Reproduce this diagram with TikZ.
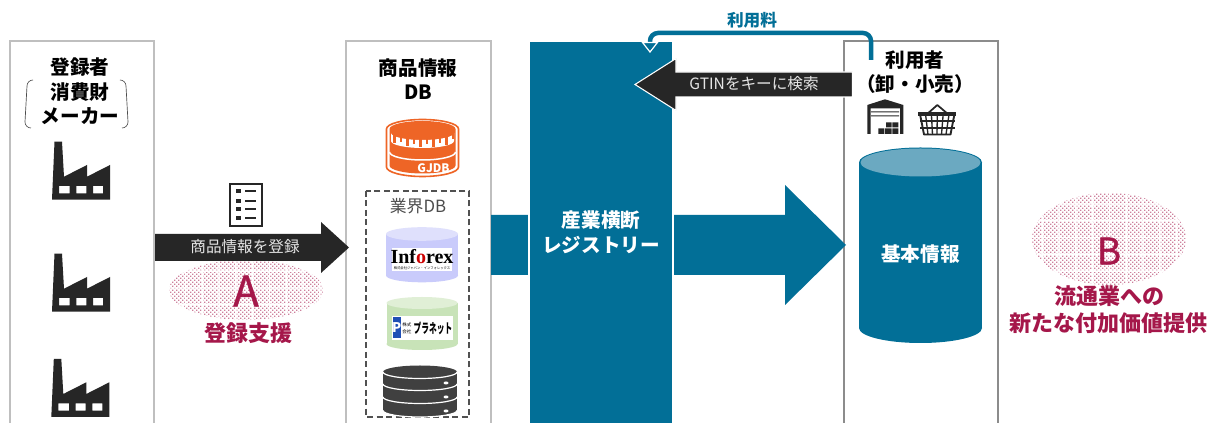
\documentclass[tikz,border=0pt]{standalone}
\usepackage{fontspec}
\setmainfont{Noto Sans CJK JP}
\newfontfamily\logoserif{Liberation Serif}
\newfontfamily\lettermed[FakeBold=1.1]{Noto Sans CJK JP}
\usetikzlibrary{calc,patterns,arrows.meta}
\definecolor{regteal}{HTML}{026F97}
\definecolor{regtop}{HTML}{6BA9C1}
\definecolor{inkdark}{HTML}{262626}
\definecolor{boxlight}{HTML}{BFBFBF}
\definecolor{boxdark}{HTML}{8C8C8C}
\definecolor{wine}{HTML}{A5174A}
\definecolor{gjorange}{HTML}{EE6526}
\definecolor{stackgrey}{HTML}{404040}
\definecolor{infobody}{HTML}{C9CBFB}
\definecolor{infotop}{HTML}{DFE0FC}
\definecolor{planbody}{HTML}{C8E3B8}
\definecolor{plantop}{HTML}{E0EFD6}
\definecolor{planblue}{HTML}{1F4FB5}
\pgfdeclarepatternformonly{pinkcheck}{\pgfqpoint{-.5pt}{-.5pt}}{\pgfqpoint{3.5pt}{3.5pt}}{\pgfqpoint{3pt}{3pt}}{%
  \pgfpathrectangle{\pgfqpoint{0pt}{0pt}}{\pgfqpoint{1.1pt}{1.1pt}}%
  \pgfpathrectangle{\pgfqpoint{1.5pt}{1.5pt}}{\pgfqpoint{1.1pt}{1.1pt}}%
  \pgfusepath{fill}}
\pgfdeclarepatternformonly{pinkgrid}{\pgfqpoint{-.5pt}{-.5pt}}{\pgfqpoint{13pt}{13pt}}{\pgfqpoint{12.6pt}{12.6pt}}{%
  \pgfpathrectangle{\pgfqpoint{0pt}{0pt}}{\pgfqpoint{12.6pt}{1pt}}%
  \pgfpathrectangle{\pgfqpoint{0pt}{0pt}}{\pgfqpoint{1pt}{12.6pt}}%
  \pgfusepath{fill}}
\def\ux{.75pt}
% #1 style, #2 from, #3 to, #4 half shaft, #5 half head, #6 signed head length
\newcommand\blockarrow[6][]{%
  \path[#1] ($(#2)+(0,-#4)$) -- ($(#3)+(-#6,-#4)$) -- ($(#3)+(-#6,-#5)$) -- (#3)
    -- ($(#3)+(-#6,#5)$) -- ($(#3)+(-#6,#4)$) -- ($(#2)+(0,#4)$) -- cycle;}
% #1 cx, #2 rx, #3 top centre y, #4 bottom centre y, #5 ry, #6 body colour, #7 top colour
\newcommand\cylinder[7]{%
  \fill[#6] (#1-#2,#3) rectangle (#1+#2,#4);
  \fill[#6] (#1,#4) ellipse [x radius=#2*\ux, y radius=#5*\ux];
  \fill[#7] (#1,#3) ellipse [x radius=#2*\ux, y radius=#5*\ux];}
\newcommand\stacktier[4]{% cx, rx, top y, bottom y
  \fill[stackgrey] (#1-#2,#3) rectangle (#1+#2,#4);
  \fill[stackgrey] (#1,#4) ellipse [x radius=#2*\ux, y radius=6.5*\ux];
  \draw[white,line width=1.2*\ux] (#1-#2,#4) arc [start angle=180,end angle=360,x radius=#2*\ux,y radius=6.5*\ux];}
\tikzset{
  x=.75pt,y=-.75pt,
  head/.style={font=\bfseries\fontsize{14.7}{16}\selectfont,text=black,inner sep=0pt},
  winehead/.style={font=\bfseries\fontsize{16.5}{18}\selectfont,text=wine,inner sep=0pt},
  whitehead/.style={font=\bfseries\fontsize{14.7}{16}\selectfont,text=white,inner sep=0pt},
  arrowtext/.style={font=\fontsize{11.7}{13}\selectfont,text=white!90!black,inner sep=0pt},
  panel/.style={line width=1.5pt},
  pics/factory/.style={code={
    \fill[inkdark,even odd rule] (0,58) -- (2.5,0) -- (10,0) -- (12,35) -- (35,23.3) -- (35,35) -- (58,23.3) -- (58,58) -- cycle
      (7,44.3) rectangle (17.7,51.7) (24.3,44.3) rectangle (34.3,51.7) (41,44.3) rectangle (51,51.7);
  }}
}
\begin{document}
\begin{tikzpicture}
\useasboundingbox (0,0) rectangle (1211,423);
\fill[white] (0,0) rectangle (1211,423);
% panels (cut by the lower edge)
\draw[panel,boxlight] (9.5,423) -- (9.5,41) -- (153.5,41) -- (153.5,423);
\draw[panel,boxlight] (346,423) -- (346,41) -- (490.5,41) -- (490.5,423);
\draw[panel,boxdark] (843.5,423) -- (843.5,41) -- (998,41) -- (998,423);
\coordinate (srcR) at (155,247.5);
\coordinate (dbL) at (349,247.5);
\coordinate (dbR) at (491,245);
\coordinate (userL) at (846,245);
\coordinate (userSearch) at (852.5,84.5);
\coordinate (regSearch) at (635,84.5);
\coordinate (feeStart) at (871,60);
\coordinate (feeEnd) at (650,53);
% source panel
\node[head] (tsrcA) at (80,67) {登録者};
\node[head] (tsrcB) at (80,92) {消費財};
\node[head] (tsrcC) at (80,116) {メーカー};
\draw[line width=.5pt,black!70] (33,80) arc [start angle=90,end angle=180,radius=6*\ux] -- (25,122) arc [start angle=180,end angle=270,radius=6*\ux];
\draw[line width=.5pt,black!70] (120,80) arc [start angle=90,end angle=0,radius=6*\ux] -- (128,122) arc [start angle=0,end angle=-90,radius=6*\ux];
\pic at (52,141.7) {factory};
\pic at (52,253.7) {factory};
\pic at (51.3,359) {factory};
% A
\path[pattern=pinkcheck,pattern color=wine!55!white] (246,290) ellipse [x radius=77*\ux,y radius=30*\ux];
\path[pattern=pinkgrid,pattern color=white] (246,290) ellipse [x radius=77*\ux,y radius=30*\ux];
\node[inner sep=0pt,text=wine,font=\lettermed\fontsize{31.5}{33}\selectfont] (letterA) at (246,291) {A};
\node[winehead] (supportA) at (248,333) {登録支援};
% document icon
\draw[inkdark,line width=1.9pt] (230,184) rectangle (262,226);
\foreach \yy in {191.3,200.7,209.3,218.3}{
  \fill[inkdark] (236,\yy-2) rectangle (240.5,\yy+2);
  \fill[inkdark] (245,\yy-1) rectangle (256,\yy+1);}
\blockarrow[fill=inkdark]{srcR}{dbL}{13.5}{25.5}{28}
\node[arrowtext] (registerlabel) at (245,246.5) {商品情報を登録};
% DB panel
\node[head] (tdbA) at (418,68) {商品情報};
\node[head] (tdbB) at (418,92) {DB};
% GJDB
\fill[white,draw=gjorange,line width=1.2pt] (386.5,129) -- (386.5,167) arc [start angle=180,end angle=360,x radius=36*\ux,y radius=9.5*\ux] -- (458.5,129) arc [start angle=0,end angle=180,x radius=36*\ux,y radius=9.5*\ux] -- cycle;
\fill[gjorange] (389.5,129) -- (389.5,165.5) arc [start angle=180,end angle=360,x radius=33*\ux,y radius=8*\ux] -- (455.5,129) arc [start angle=0,end angle=180,x radius=33*\ux,y radius=8*\ux] -- cycle;
\fill[white] (391,133) arc [start angle=180,end angle=360,x radius=31.5*\ux,y radius=7*\ux] -- (454,141) arc [start angle=360,end angle=180,x radius=31.5*\ux,y radius=7*\ux] -- cycle;
\foreach \i in {0,...,9}{
  \pgfmathsetmacro\tx{394.5+\i*6.5}
  \pgfmathsetmacro\ty{132+7*sqrt(max(0,1-((\tx-422.5)/31.5)^2))}
  \pgfmathsetmacro\tl{mod(\i,2)==0?8:5}
  \draw[gjorange,line width=2.2*\ux] (\tx,\ty-1) -- (\tx,\ty+\tl);
}
\draw[white,line width=1.5*\ux] (389.5,152) arc [start angle=180,end angle=360,x radius=33*\ux,y radius=8*\ux];
\node[inner sep=0pt,text=white,font=\bfseries\fontsize{8.8}{9}\selectfont] (gjdblabel) at (433.5,168) {GJDB};
% industry DB
\draw[dash pattern=on 4.5pt off 2.6pt,inkdark!80,line width=.9pt] (366,191) rectangle (469,417);
\node[inner sep=0pt,text=black!70,font=\fontsize{12.6}{14}\selectfont] (industrylabel) at (418,206) {業界DB};
\cylinder{422}{36}{234}{275.5}{6.8}{infobody}{infotop}
\fill[white] (392,248) rectangle (452,271);
\node[inner sep=0pt,font=\logoserif\bfseries\fontsize{15}{16}\selectfont] (inforex) at (422,257) {Inf\textcolor{red!80!black}{o}rex};
\node[inner sep=0pt,font=\fontsize{2.5}{3}\selectfont] (inforexsub) at (422,268) {株式会社ジャパン・インフォレックス};
\cylinder{422}{35.5}{303}{344}{6}{planbody}{plantop}
\fill[white] (392,316) rectangle (453,340);
\fill[planblue] (392.7,317) rectangle (401,338);
\node[inner sep=0pt,text=white,font=\bfseries\fontsize{10}{11}\selectfont] (planetp) at (396.8,327.5) {P};
\node[inner sep=0pt,align=center,font=\fontsize{3.4}{5}\selectfont] (planetco) at (406.8,328) {株式\\会社};
\node[inner sep=0pt,font=\bfseries\fontsize{10}{11}\selectfont] (planet) at (433,328) {\scalebox{.58}[1]{プラネット}};
\stacktier{420}{37}{398}{410.5}
\stacktier{420}{37}{385}{397}
\stacktier{420}{37}{372}{384}
\fill[stackgrey] (420,372) ellipse [x radius=37*\ux,y radius=6.5*\ux];
\draw[white,line width=1.2*\ux] (383,372) arc [start angle=180,end angle=360,x radius=37*\ux,y radius=6.5*\ux];
\foreach \yy in {383,397,411}{\fill[white] (446,\yy) ellipse [x radius=2.5*\ux,y radius=1.5*\ux];}
% big teal arrow, registry
\blockarrow[fill=regteal]{dbR}{userL}{30}{60}{61}
\node[fill=regteal,draw=white,line width=1.5pt,minimum width=144*\ux,minimum height=383*\ux,inner sep=0pt] (registry) at (601,232.5) {};
\node[whitehead] (regA) at (601,220) {産業横断};
\node[whitehead] (regB) at (601,245) {レジストリー};
% search arrow
\blockarrow[fill=inkdark,draw=white,line width=.8pt]{userSearch}{regSearch}{12.5}{26}{-41}
\node[arrowtext] (searchlabel) at (754,84) {GTINをキーに検索};
% fee connector
\draw[regteal,line width=4.5*\ux,rounded corners=6pt,-{Triangle[width=17*\ux,length=11*\ux,fill=regteal,color=white,line width=1.2*\ux]}] (feeStart) -- (871,33) -- (650,33) -- (feeEnd);
\node[inner sep=0pt,text=regteal,font=\bfseries\fontsize{12.5}{14}\selectfont] (feelabel) at (752,20) {利用料};
% user panel
\node[head] (tuserA) at (915,60) {利用者};
\node[head] (tuserB) at (915,84) {（卸・小売）};
% warehouse
\fill[inkdark] (867.3,134) -- (867.3,105) -- (885,99.3) -- (903.3,105) -- (903.3,134) -- (900,134) -- (900,108.5) -- (870.7,108.5) -- (870.7,134) -- cycle;
\fill[inkdark] (871,111.5) rectangle (899,112.5) (871,115.5) rectangle (899,116.5);
\fill[inkdark] (886,122.3) rectangle (891.7,127.5) (892.4,122.3) rectangle (898.3,127.5)
  (878.3,128.3) rectangle (884.3,134) (885,128.3) rectangle (891.7,134) (892.4,128.3) rectangle (898.3,134);
% basket
\draw[inkdark,line width=1.3pt,line join=round] (928.3,113) -- (937.3,105) -- (946.7,113);
\fill[inkdark] (918.3,112.5) rectangle (956,116);
\draw[inkdark,line width=1.4pt,line join=round] (920,114) -- (954.5,114) -- (950.5,134.5) -- (924,134.5) -- cycle;
\foreach \ii in {0,1,2,3,4}{\draw[inkdark,line width=1pt] (925.5+\ii*5.9,114) -- (928+\ii*4.5,134.5);}
\foreach \yy in {121,128}{\draw[inkdark,line width=1pt] (920,\yy) -- (954.5,\yy);}
\cylinder{920.5}{61.5}{162.5}{328}{15}{regteal}{regteal}
\fill[regtop] (920.5,162.5) ellipse [x radius=60*\ux,y radius=14*\ux];
\node[whitehead] (basic) at (920.5,254) {基本情報};
% B
\path[pattern=pinkcheck,pattern color=wine!55!white] (1109,239) ellipse [x radius=77*\ux,y radius=46*\ux];
\path[pattern=pinkgrid,pattern color=white] (1109,239) ellipse [x radius=77*\ux,y radius=46*\ux];
\node[inner sep=0pt,text=wine,font=\lettermed\fontsize{27.5}{29}\selectfont] (letterB) at (1109,251) {B};
\node[winehead] (bA) at (1109,296) {流通業への};
\node[winehead] (bB) at (1108,323) {新たな付加価値提供};
\end{tikzpicture}
\end{document}
